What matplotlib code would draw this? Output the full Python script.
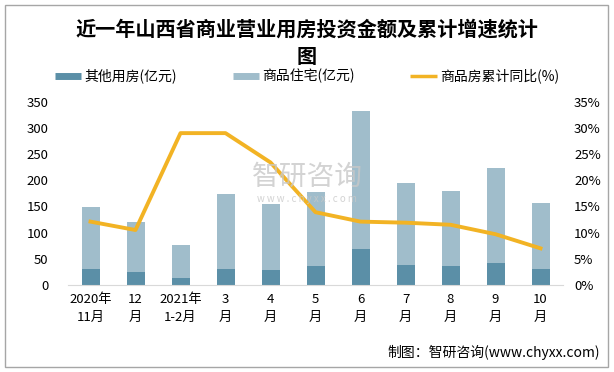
import matplotlib
matplotlib.use("Agg")
import matplotlib.pyplot as plt
from matplotlib.lines import Line2D
from matplotlib.patches import Rectangle

plt.rcParams['font.family'] = ['Noto Sans CJK SC', 'DejaVu Sans']
plt.rcParams['axes.unicode_minus'] = False

# 数据
months = ["2020年\n11月", "12\n月", "2021年\n1-2月", "3\n月", "4\n月", "5\n月",
          "6\n月", "7\n月", "8\n月", "9\n月", "10\n月"]
other = [31, 25, 13, 31, 29, 36, 69, 38, 36, 42, 31]          # 其他用房(亿元)
housing = [118, 96, 64, 143, 126, 142, 264, 157, 144, 182, 126]  # 商品住宅(亿元)
growth = [12.1, 10.5, 29.0, 29.0, 23.4, 13.9, 12.1, 11.9, 11.5, 9.7, 7.0]  # 商品房累计同比(%)

c_dark = '#5B8FA7'
c_light = '#A0BDCB'
c_line = '#F2B324'

fig = plt.figure(figsize=(6.14, 3.72), dpi=100)
ax = fig.add_axes([68 / 614, 1 - 285 / 372, (563 - 68) / 614, (285 - 101.7) / 372])
x = list(range(len(months)))
ax.bar(x, other, width=0.4, color=c_dark, zorder=2)
ax.bar(x, housing, width=0.4, bottom=other, color=c_light, zorder=2)
ax.set_xlim(-0.5, len(months) - 0.5)
ax.set_ylim(0, 350)
ax.set_yticks(range(0, 351, 50))
ax.set_xticks(x)
ax.set_xticklabels(months, fontsize=9.5, linespacing=1.5)
ax.tick_params(length=0, labelsize=9.5)
ax.tick_params(axis='y', pad=14)
ax.tick_params(axis='x', pad=6)
for s in ['top', 'right', 'left']:
    ax.spines[s].set_visible(False)
ax.spines['bottom'].set_color('#D9D9D9')

ax2 = ax.twinx()
ax2.plot(x, growth, color=c_line, lw=2.8, zorder=3)
ax2.set_ylim(0, 35)
ax2.set_yticks(range(0, 36, 5))
ax2.set_yticklabels([f"{v}%" for v in range(0, 36, 5)])
ax2.tick_params(length=0, labelsize=9.5, pad=8)
for s in ax2.spines.values():
    s.set_visible(False)

# 标题
fig.text(0.5, 1 - 43 / 372, "近一年山西省商业营业用房投资金额及累计增速统计\n图",
         ha='center', va='center', fontsize=14.5, fontweight='bold', linespacing=1.35)

# 图例
handles = [Line2D([], [], color=c_dark, lw=5, solid_capstyle='butt'),
           Line2D([], [], color=c_light, lw=5, solid_capstyle='butt'),
           Line2D([], [], color=c_line, lw=2.5, solid_capstyle='butt')]
labels = ["其他用房(亿元)", "商品住宅(亿元)", "商品房累计同比(%)"]
fig.legend(handles, labels, loc='center', bbox_to_anchor=(0.5, 1 - 76 / 372), ncol=3,
           frameon=False, fontsize=10, handlelength=1.9, handletextpad=0.25, columnspacing=4.0)

# 水印
fig.text(0.5, 1 - 177 / 372, "智研咨询", ha='center', va='center', fontsize=20,
         color='#C8C8C8', alpha=0.8, zorder=0)
fig.text(0.5, 1 - 199 / 372, "w w w . c h y x x . c o m", ha='center', va='center', fontsize=7,
         color='#C8C8C8', alpha=0.8, zorder=0)

# 来源
fig.text(600 / 614, 1 - 352 / 372, "制图：智研咨询(www.chyxx.com)", ha='right', va='center', fontsize=10)

# 边框
fig.patches.append(Rectangle((5 / 614, 5 / 372), 603 / 614, 362 / 372, transform=fig.transFigure,
                             fill=False, edgecolor='#A6A6A6', lw=1))

fig.savefig("out.png", dpi=100)
